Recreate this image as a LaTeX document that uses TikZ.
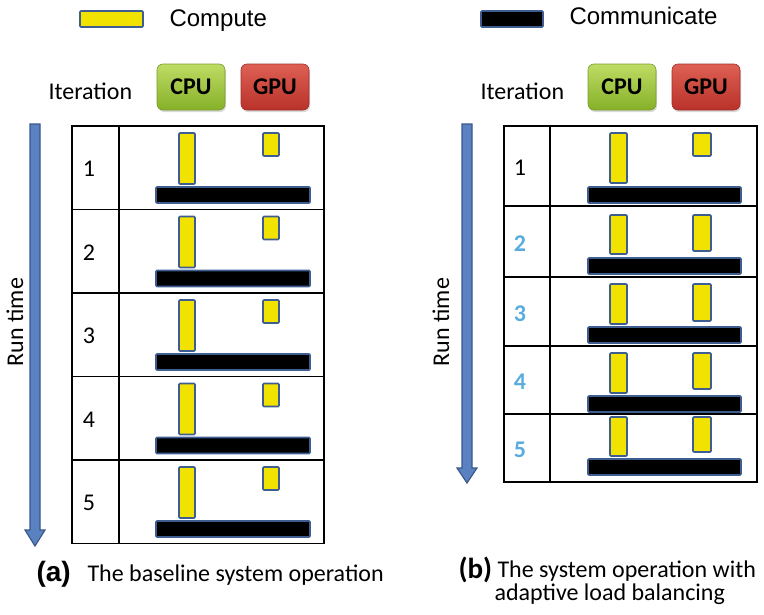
\documentclass[tikz,border=0pt]{standalone}
\usepackage{fontspec}
\setmainfont{Carlito}
\newfontfamily\arialfont{Liberation Sans}
\usetikzlibrary{shadows}

\definecolor{computeyellow}{RGB}{242,226,0}
\definecolor{baredge}{RGB}{62,94,145}
\definecolor{arrowblue}{RGB}{90,130,192}
\definecolor{arrowedge}{RGB}{58,88,138}
\definecolor{cputop}{RGB}{190,220,100}
\definecolor{cpubottom}{RGB}{134,176,40}
\definecolor{cpuedge}{RGB}{120,155,45}
\definecolor{gputop}{RGB}{222,96,84}
\definecolor{gpubottom}{RGB}{185,50,42}
\definecolor{gpuedge}{RGB}{160,45,38}
\definecolor{rebalanced}{RGB}{88,172,222}

\begin{document}
\begin{tikzpicture}[
    x=1pt, y=-1pt,
    font=\fontsize{24}{24}\selectfont,
    compute/.style={fill=computeyellow, draw=baredge, line width=1.6pt, rounded corners=1pt},
    communicate/.style={fill=black, draw=baredge, line width=1.6pt, rounded corners=1pt},
    grid/.style={draw=black, line width=1.5pt},
    timearrow/.style={fill=arrowblue, draw=arrowedge, line width=1.2pt, line join=miter},
    unit/.style={rounded corners=6pt, minimum width=68pt, minimum height=46pt, inner sep=0pt,
        font=\fontsize{24}{24}\selectfont\bfseries,
        drop shadow={opacity=0.3, shadow xshift=1pt, shadow yshift=-2pt}},
    cpu/.style={unit, top color=cputop, bottom color=cpubottom, draw=cpuedge, line width=0.6pt},
    gpu/.style={unit, top color=gputop, bottom color=gpubottom, draw=gpuedge, line width=0.6pt},
    legendtext/.style={anchor=base west, font=\arialfont\fontsize{24}{24}\selectfont},
    iternum/.style={font=\fontsize{24}{24}\selectfont},
    iterbal/.style={font=\fontsize{24}{24}\selectfont\bfseries, text=rebalanced},
    caption/.style={anchor=base west, font=\fontsize{24}{24}\selectfont}
]
\useasboundingbox (0,0) rectangle (764,614);

% legend
\draw[compute] (80,11) rectangle (143,27);
\node[legendtext] (computelabel) at (166,26) {Compute};
\draw[communicate] (481,11) rectangle (543,27);
\node[legendtext] (communicatelabel) at (566,24) {Communicate};

% (a) baseline
\node[anchor=base west] (iterA) at (45,99) {Iteration};
\node[cpu] (cpuA) at (191,87) {CPU};
\node[gpu] (gpuA) at (275,87) {GPU};
\draw[timearrow] (30,124) -- (40,124) -- (40,530) -- (45,530) -- (35,546) -- (25,530) -- (30,530) -- cycle;
\node[rotate=90] (runA) at (15,322) {Run time};
\draw[grid] (72,126) rectangle (324,543.5);
\draw[grid] (119,126) -- (119,543.5);
\foreach \y in {209.5,293,376.5,460}
    \draw[grid] (72,\y) -- (324,\y);
\foreach \i in {1,...,5} {
    \pgfmathsetmacro{\t}{126+83.5*(\i-1)}
    \node[iternum] (rowA\i) at (89,\t+43) {\i};
    \draw[compute] (179,\t+7) rectangle (195,\t+58);
    \draw[compute] (263,\t+7) rectangle (279,\t+30);
    \draw[communicate] (156,\t+61) rectangle (310,\t+77);
}
\node[caption, font=\arialfont\fontsize{28}{28}\selectfont\bfseries] (capA) at (33,581) {(a)};
\node[caption] (capAtext) at (84,581) {The baseline system operation};

% (b) adaptive load balancing
\node[anchor=base west] (iterB) at (477,99) {Iteration};
\node[cpu] (cpuB) at (622,87) {CPU};
\node[gpu] (gpuB) at (706,87) {GPU};
\draw[timearrow] (462,124) -- (472,124) -- (472,468) -- (477,468) -- (467,483) -- (457,468) -- (462,468) -- cycle;
\node[rotate=90] (runB) at (441,322) {Run time};
\draw[grid] (504,126) rectangle (757,482);
\draw[grid] (550,126) -- (550,482);
\foreach \y in {206,277,346,414}
    \draw[grid] (504,\y) -- (757,\y);
\foreach \i/\t/\h/\ct/\cb/\gb/\bt/\s in {1/126/80/7/57/30/61/iternum, 2/206/71/9/48/45/52/iterbal,
        3/277/69/7/47/44/50/iterbal, 4/346/68/7/47/43/50/iterbal, 5/414/68/3/42/38/45/iterbal} {
    \node[\s] (rowB\i) at (520,\t+\h/2+2) {\i};
    \draw[compute] (610,\t+\ct) rectangle (627,\t+\cb);
    \draw[compute] (693,\t+\ct) rectangle (711,\t+\gb);
    \draw[communicate] (588,\t+\bt) rectangle (741,\t+\bt+16);
}
\node[caption, font=\fontsize{29}{29}\selectfont\bfseries] (capB) at (455,578) {(b)};
\node[caption] (capBtext) at (494,577) {The system operation with};
\node[caption] (capBtext2) at (491,600) {adaptive load balancing};
\end{tikzpicture}
\end{document}
